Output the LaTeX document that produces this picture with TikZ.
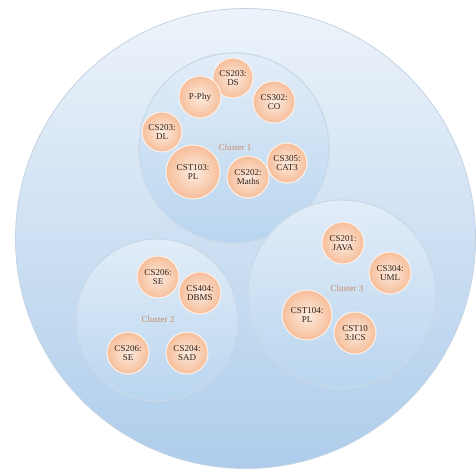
\documentclass[tikz,border=0pt]{standalone}
\usepackage{fontspec}
\setmainfont{Liberation Serif}
\definecolor{outtop}{HTML}{EDF3FA}
\definecolor{outbot}{HTML}{AECDEB}
\definecolor{outline}{HTML}{C3D3E3}
\definecolor{cltop}{HTML}{E2EDF8}
\definecolor{clbot}{HTML}{B9D5EF}
\definecolor{clline}{HTML}{C9D9E9}
\definecolor{peachin}{HTML}{FDEBDF}
\definecolor{peachout}{HTML}{F6BE9A}
\definecolor{txt}{HTML}{2E221C}
\definecolor{cltxt}{HTML}{C98A66}
\tikzset{
  x=1pt, y=-1pt,
  outer/.style={circle, draw=outline, line width=0.8pt, top color=outtop, bottom color=outbot, inner sep=0pt},
  cluster/.style={circle, draw=clline, line width=1.2pt, top color=cltop, bottom color=clbot, inner sep=0pt},
  course/.style={circle, draw=white!80!peachout, line width=1pt, inner color=peachin, outer color=peachout, inner sep=0pt, align=center, font=\fontsize{9}{9.5}\selectfont, text=txt},
  clabel/.style={font=\fontsize{9}{10}\selectfont, text=cltxt}
}
\begin{document}
\begin{tikzpicture}
\useasboundingbox (0,0) rectangle (476,471);
\node[outer, minimum size=460pt] (all) at (245.5,238.5) {};
\node[cluster, minimum size=190pt] (c1) at (234,148) {};
\node[cluster, minimum size=162pt] (c2) at (157,320) {};
\node[cluster, minimum size=188pt] (c3) at (342,294) {};
% cluster 1
\node[clabel] (l1) at (235,147) {Cluster 1};
\node[course, minimum size=40pt] (ds) at (233,78) {CS203:\\DS};
\node[course, minimum size=42pt] (pphy) at (200,97) {P-Phy};
\node[course, minimum size=42pt] (co) at (274,102) {CS302:\\CO};
\node[course, minimum size=40pt] (dl) at (162,132) {CS203:\\DL};
\node[course, minimum size=54pt] (pl1) at (193,172) {CST103:\\PL};
\node[course, minimum size=42pt] (maths) at (248,177) {CS202:\\Maths};
\node[course, minimum size=40pt] (cat) at (287,163) {CS305:\\CAT3};
% cluster 2
\node[clabel] (l2) at (158,319) {Cluster 2};
\node[course, minimum size=42pt] (se1) at (158,277) {CS206:\\SE};
\node[course, minimum size=42pt] (dbms) at (200,293) {CS404:\\DBMS};
\node[course, minimum size=42pt] (se2) at (128,353) {CS206:\\SE};
\node[course, minimum size=42pt] (sad) at (187,353) {CS204:\\SAD};
% cluster 3
\node[clabel] (l3) at (347,288) {Cluster 3};
\node[course, minimum size=42pt] (java) at (343,243) {CS201:\\JAVA};
\node[course, minimum size=42pt] (uml) at (390,273) {CS304:\\UML};
\node[course, minimum size=50pt] (pl2) at (307,315) {CST104:\\PL};
\node[course, minimum size=42pt] (ics) at (355,333) {CST10\\3:ICS};
\end{tikzpicture}
\end{document}
